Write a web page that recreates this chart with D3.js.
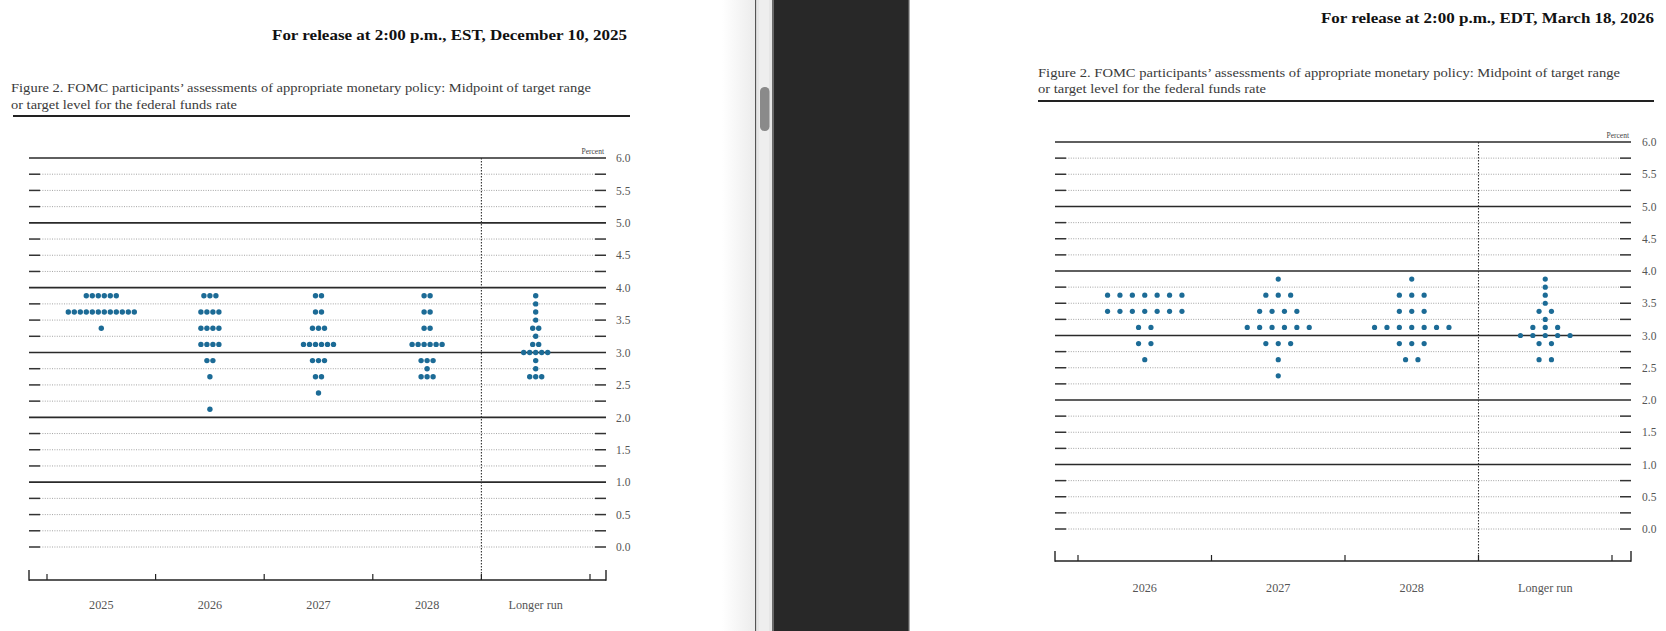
<!DOCTYPE html>
<html>
<head>
<meta charset="utf-8">
<script src="https://cdn.jsdelivr.net/npm/d3@7"></script>
<style>
  html, body { margin: 0; padding: 0; background: #fff; overflow: hidden; }
  svg { display: block; }
  text { font-family: "Liberation Serif", "DejaVu Serif", serif; }
</style>
</head>
<body>
<svg id="chart" width="1666" height="631"></svg>
<script>
// ---------- DATA ----------
// December 2025 projections: [rate, number of participants]
const decCategories = ["2025", "2026", "2027", "2028", "Longer run"];
const dec2025 = [[3.875, 6], [3.625, 12], [3.375, 1]];
const dec2026 = [[3.875, 3], [3.625, 4], [3.375, 4], [3.125, 4], [2.875, 2], [2.625, 1], [2.125, 1]];
const dec2027 = [[3.875, 2], [3.625, 2], [3.375, 3], [3.125, 6], [2.875, 3], [2.625, 2], [2.375, 1]];
const dec2028 = [[3.875, 2], [3.625, 2], [3.375, 2], [3.125, 6], [2.875, 3], [2.75, 1], [2.625, 3]];
const decLonger = [[3.875, 1], [3.75, 1], [3.625, 1], [3.5, 1], [3.375, 2], [3.25, 1], [3.125, 2], [3.0, 5], [2.875, 1], [2.75, 1], [2.625, 3]];
const decColumns = [dec2025, dec2026, dec2027, dec2028, decLonger];

// March 2026 projections
const marCategories = ["2026", "2027", "2028", "Longer run"];
const mar2026 = [[3.625, 7], [3.375, 7], [3.125, 2], [2.875, 2], [2.625, 1]];
const mar2027 = [[3.875, 1], [3.625, 3], [3.375, 4], [3.125, 6], [2.875, 3], [2.625, 1], [2.375, 1]];
const mar2028 = [[3.875, 1], [3.625, 3], [3.375, 3], [3.125, 7], [2.875, 3], [2.625, 2]];
const marLonger = [[3.875, 1], [3.75, 1], [3.625, 1], [3.5, 1], [3.375, 2], [3.25, 1], [3.125, 3], [3.0, 5], [2.875, 2], [2.625, 2]];
const marColumns = [mar2026, mar2027, mar2028, marLonger];

const yTickLabels = ["0.0", "0.5", "1.0", "1.5", "2.0", "2.5", "3.0", "3.5", "4.0", "4.5", "5.0", "5.5", "6.0"];
const gridLevels = d3.range(0, 6.0001, 0.25);

const leftHeader = "For release at 2:00 p.m., EST, December 10, 2025";
const rightHeader = "For release at 2:00 p.m., EDT, March 18, 2026";
const captionLine1 = "Figure 2. FOMC participants\u2019 assessments of appropriate monetary policy: Midpoint of target range";
const captionLine2 = "or target level for the federal funds rate";

// ---------- DRAW ----------
const svg = d3.select("#chart");
const dotColor = "#1c6b96";

function drawPanel(cfg) {
  const g = svg.append("g");
  const y = d3.scaleLinear().domain([0, 6]).range([cfg.y0, cfg.y6]);
  const x = d3.scaleBand().domain(cfg.categories).range([cfg.bandStart, cfg.bandEnd]).paddingInner(0).paddingOuter(0);

  // header
  g.append("text").attr("x", cfg.headerX).attr("y", cfg.headerY)
    .attr("textLength", cfg.headerW).attr("lengthAdjust", "spacingAndGlyphs")
    .attr("font-size", 14.5).attr("font-weight", "bold").attr("fill", "#111").text(cfg.header);
  // caption
  g.append("text").attr("x", cfg.capX).attr("y", cfg.capY1)
    .attr("textLength", cfg.capW1).attr("lengthAdjust", "spacingAndGlyphs")
    .attr("font-size", 12.5).attr("fill", "#3a3a3a").text(captionLine1);
  g.append("text").attr("x", cfg.capX).attr("y", cfg.capY2)
    .attr("textLength", cfg.capW2).attr("lengthAdjust", "spacingAndGlyphs")
    .attr("font-size", 12.5).attr("fill", "#3a3a3a").text(captionLine2);
  g.append("line").attr("x1", cfg.ruleX1).attr("x2", cfg.ruleX2)
    .attr("y1", cfg.ruleY).attr("y2", cfg.ruleY).attr("stroke", "#222").attr("stroke-width", 2);

  // grid lines
  gridLevels.forEach(v => {
    const yy = y(v);
    const isInt = Math.abs(v - Math.round(v)) < 1e-6 && v > 0;
    if (isInt) {
      g.append("line").attr("x1", cfg.xLeft).attr("x2", cfg.xRight).attr("y1", yy).attr("y2", yy)
        .attr("stroke", "#2a2a2a").attr("stroke-width", 1.6);
    } else {
      g.append("line").attr("x1", cfg.xLeft + 11).attr("x2", cfg.xRight - 11).attr("y1", yy).attr("y2", yy)
        .attr("stroke", "#9a9a9a").attr("stroke-width", 0.9).attr("stroke-dasharray", "1,1.4");
      g.append("line").attr("x1", cfg.xLeft).attr("x2", cfg.xLeft + 11).attr("y1", yy).attr("y2", yy)
        .attr("stroke", "#333").attr("stroke-width", 1.5);
      g.append("line").attr("x1", cfg.xRight - 11).attr("x2", cfg.xRight).attr("y1", yy).attr("y2", yy)
        .attr("stroke", "#333").attr("stroke-width", 1.5);
    }
  });

  // y-axis labels via d3 axis
  const yAxis = d3.axisRight(y).tickValues(d3.range(0, 6.0001, 0.5)).tickSize(0).tickPadding(0)
    .tickFormat((d, i) => yTickLabels[i]);
  const ya = g.append("g").attr("transform", `translate(${cfg.labelX},0)`).call(yAxis);
  ya.select(".domain").remove();
  ya.selectAll("text").attr("font-family", "Liberation Serif, serif").attr("font-size", 11.5).attr("fill", "#555");

  // "Percent"
  g.append("text").attr("x", cfg.xRight - 2).attr("y", y(6) - 4).attr("text-anchor", "end")
    .attr("font-size", 7.5).attr("fill", "#444").text("Percent");

  // separator between projection years and longer run
  const sepX = x(cfg.categories[cfg.categories.length - 1]);
  g.append("line").attr("x1", sepX).attr("x2", sepX).attr("y1", y(6)).attr("y2", cfg.axisY)
    .attr("stroke", "#333").attr("stroke-width", 1.1).attr("stroke-dasharray", "1.5,1.5");

  // bottom axis
  g.append("line").attr("x1", cfg.xLeft).attr("x2", cfg.xRight).attr("y1", cfg.axisY).attr("y2", cfg.axisY)
    .attr("stroke", "#222").attr("stroke-width", 1.5);
  [cfg.xLeft, cfg.xRight].forEach(xx => {
    g.append("line").attr("x1", xx).attr("x2", xx).attr("y1", cfg.axisY + 0.7).attr("y2", cfg.axisY - 10)
      .attr("stroke", "#222").attr("stroke-width", 1.4);
  });
  const edges = cfg.categories.map(c => x(c)).concat([cfg.bandEnd]);
  edges.forEach(xx => {
    g.append("line").attr("x1", xx).attr("x2", xx).attr("y1", cfg.axisY).attr("y2", cfg.axisY - 6)
      .attr("stroke", "#222").attr("stroke-width", 1.2);
  });

  // category labels
  g.selectAll(".cat").data(cfg.categories).enter().append("text")
    .attr("x", d => x(d) + x.bandwidth() / 2).attr("y", cfg.catY)
    .attr("text-anchor", "middle").attr("font-size", 12.2).attr("fill", "#555").text(d => d);

  // dots
  cfg.columns.forEach((col, ci) => {
    const cx = x(cfg.categories[ci]) + x.bandwidth() / 2;
    col.forEach(([rate, n]) => {
      for (let i = 0; i < n; i++) {
        g.append("circle")
          .attr("cx", cx + (i - (n - 1) / 2) * cfg.spacing)
          .attr("cy", y(rate))
          .attr("r", cfg.r)
          .attr("fill", dotColor);
      }
    });
  });
}

drawPanel({
  categories: decCategories, columns: decColumns,
  y0: 547, y6: 158, xLeft: 29, xRight: 606, bandStart: 47, bandEnd: 590,
  axisY: 580, labelX: 616, catY: 609, spacing: 6.0, r: 2.7,
  header: leftHeader, headerX: 272, headerY: 40, headerW: 355,
  capX: 11, capY1: 92, capY2: 108.5, capW1: 580, capW2: 226,
  ruleX1: 13, ruleX2: 630, ruleY: 116
});

drawPanel({
  categories: marCategories, columns: marColumns,
  y0: 529, y6: 142, xLeft: 1055, xRight: 1631, bandStart: 1078, bandEnd: 1612,
  axisY: 561, labelX: 1642, catY: 592, spacing: 12.4, r: 2.6,
  header: rightHeader, headerX: 1321, headerY: 23, headerW: 333,
  capX: 1038, capY1: 77, capY2: 93, capW1: 582, capW2: 228,
  ruleX1: 1038, ruleX2: 1654, ruleY: 101
});

// ---------- window divider / scrollbar ----------
const defs = svg.append("defs");
const grad = defs.append("linearGradient").attr("id", "shade").attr("x1", "0").attr("x2", "1");
grad.append("stop").attr("offset", "0").attr("stop-color", "#ffffff");
grad.append("stop").attr("offset", "1").attr("stop-color", "#ececec");
svg.append("rect").attr("x", 722).attr("y", 0).attr("width", 33).attr("height", 631).attr("fill", "url(#shade)");
svg.append("rect").attr("x", 755).attr("y", 0).attr("width", 1.4).attr("height", 631).attr("fill", "#555");
svg.append("rect").attr("x", 756.4).attr("y", 0).attr("width", 16).attr("height", 631).attr("fill", "#e6e6e6");
svg.append("rect").attr("x", 759).attr("y", 0).attr("width", 10).attr("height", 631).attr("fill", "#eeeeee");
svg.append("rect").attr("x", 760).attr("y", 87).attr("width", 9.5).attr("height", 44).attr("rx", 4.5)
  .attr("fill", "#8a8a8a");
svg.append("rect").attr("x", 772).attr("y", 0).attr("width", 2).attr("height", 631).attr("fill", "#6a6a6a");
svg.append("rect").attr("x", 774).attr("y", 0).attr("width", 134).attr("height", 631).attr("fill", "#282828");
svg.append("rect").attr("x", 908).attr("y", 0).attr("width", 1.5).attr("height", 631).attr("fill", "#555");
</script>
</body>
</html>
